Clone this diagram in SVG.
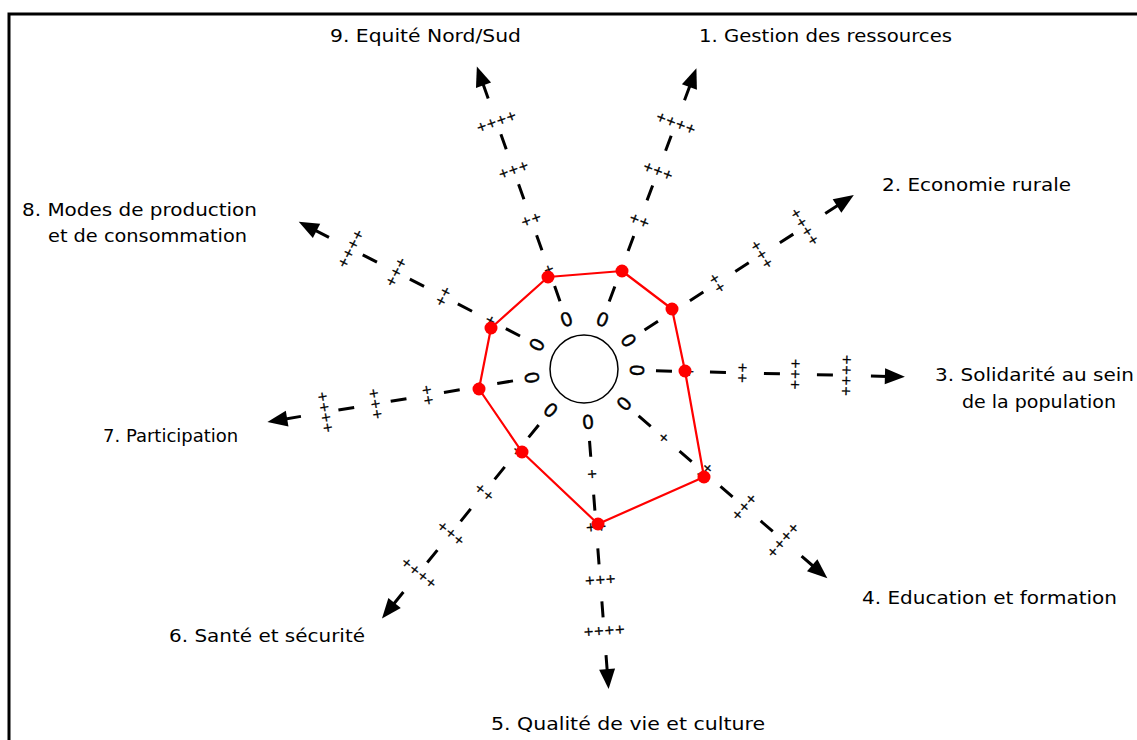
<svg xmlns="http://www.w3.org/2000/svg" width="1137" height="740" viewBox="0 0 1137 740">
<style>
.dash{fill:none;stroke:#000;stroke-width:3;stroke-linecap:butt}
.head{fill:#000;stroke:none}
.zero{font-family:"DejaVu Sans",sans-serif;font-size:19px;text-anchor:middle;fill:#000;stroke:#000;stroke-width:0.4}
.plus{font-family:"DejaVu Sans",sans-serif;font-size:12.5px;text-anchor:middle;fill:#000;stroke:#000;stroke-width:0.35}
.lbl{font-family:"DejaVu Sans",sans-serif;font-size:18.5px;fill:#000}
.poly{fill:none;stroke:#ff0000;stroke-width:2.2;stroke-linejoin:round}
.dot{fill:#ff0000}
</style>
<defs>
<g id="axis">
<path class="dash" d="M0,-72V-88M0,-126V-142M0,-180V-196M0,-233V-249M0,-287V-304"/>
<path class="head" d="M0,-321L-8,-301L8,-301Z"/>
<text class="zero" y="-53" dy="7">0</text>
<text class="plus" y="-106" dy="4.5">+</text>
<text class="plus" y="-159" dy="4.5">++</text>
<text class="plus" y="-212" dy="4.5">+++</text>
<text class="plus" y="-263" dy="4.5">++++</text>
</g>
</defs>
<path d="M9,740V14H1137" fill="none" stroke="#000" stroke-width="3"/>
<g id="connectors">
<use id="axis-1" href="#axis" transform="translate(584,369) rotate(20.5)"/>
<use id="axis-2" href="#axis" transform="translate(584,369) rotate(57.2)"/>
<use id="axis-3" href="#axis" transform="translate(584,369) rotate(91.4)"/>
<use id="axis-4" href="#axis" transform="translate(584,369) rotate(130.7)"/>
<use id="axis-5" href="#axis" transform="translate(584,369) rotate(175.6)"/>
<use id="axis-6" href="#axis" transform="translate(584,369) rotate(219)"/>
<use id="axis-7" href="#axis" transform="translate(584,369) rotate(260.5)"/>
<use id="axis-8" href="#axis" transform="translate(584,369) rotate(297.3)"/>
<use id="axis-9" href="#axis" transform="translate(584,369) rotate(-19.5)"/>
</g>
<g id="center">
<circle cx="584" cy="369" r="34" fill="#fff" stroke="#000" stroke-width="1.5"/>
</g>
<g id="profile">
<polygon class="poly" points="622,271 672,309 685,371 704,477 598,524 522,452 479,389 491,328 548,277"/>
<circle class="dot" cx="622" cy="271" r="6.5"/>
<circle class="dot" cx="672" cy="309" r="6.5"/>
<circle class="dot" cx="685" cy="371" r="6.5"/>
<circle class="dot" cx="704" cy="477" r="6.5"/>
<circle class="dot" cx="598" cy="524" r="6.5"/>
<circle class="dot" cx="522" cy="452" r="6.5"/>
<circle class="dot" cx="479" cy="389" r="6.5"/>
<circle class="dot" cx="491" cy="328" r="6.5"/>
<circle class="dot" cx="548" cy="277" r="6.5"/>
</g>
<g id="label-1"><text class="lbl" x="699" y="42" textLength="253" lengthAdjust="spacingAndGlyphs">1. Gestion des ressources</text></g>
<g id="label-2"><text class="lbl" x="882" y="191" textLength="189" lengthAdjust="spacingAndGlyphs">2. Economie rurale</text></g>
<g id="label-3"><text class="lbl" x="935" y="381" textLength="199" lengthAdjust="spacingAndGlyphs">3. Solidarité au sein</text><text class="lbl" x="962" y="408" textLength="154" lengthAdjust="spacingAndGlyphs">de la population</text></g>
<g id="label-4"><text class="lbl" x="862" y="604" textLength="255" lengthAdjust="spacingAndGlyphs">4. Education et formation</text></g>
<g id="label-5"><text class="lbl" x="491" y="730" textLength="274" lengthAdjust="spacingAndGlyphs">5. Qualité de vie et culture</text></g>
<g id="label-6"><text class="lbl" x="169" y="642" textLength="196" lengthAdjust="spacingAndGlyphs">6. Santé et sécurité</text></g>
<g id="label-7"><text class="lbl" x="103" y="442" style="font-size:18px">7. Participation</text></g>
<g id="label-8"><text class="lbl" x="22" y="216" textLength="235" lengthAdjust="spacingAndGlyphs">8. Modes de production</text><text class="lbl" x="48" y="242" textLength="199" lengthAdjust="spacingAndGlyphs">et de consommation</text></g>
<g id="label-9"><text class="lbl" x="330" y="42" textLength="191" lengthAdjust="spacingAndGlyphs">9. Equité Nord/Sud</text></g>
</svg>
